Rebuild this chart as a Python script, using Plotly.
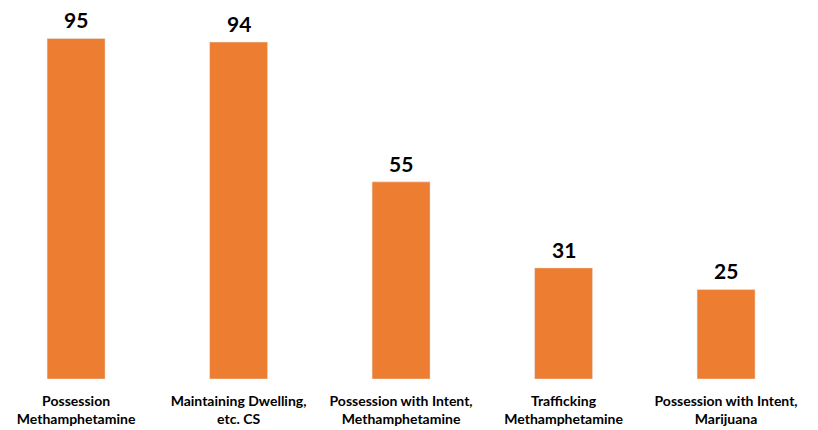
import plotly.graph_objects as go

categories = ["Possession<br>Methamphetamine", "Maintaining Dwelling,<br>etc. CS",
              "Possession with Intent,<br>Methamphetamine", "Trafficking<br>Methamphetamine",
              "Possession with Intent,<br>Marijuana"]
values = [95, 94, 55, 31, 25]

FONT = "Lato, Open Sans, sans-serif"

xs = list(range(len(categories)))
fig = go.Figure(go.Bar(
    x=xs, y=values,
    marker_color="#ED7D31", width=0.357,
))
for x, v in zip(xs, values):
    fig.add_annotation(x=x, y=v, text=str(v), showarrow=False,
                       xanchor="center", yanchor="bottom", yshift=4,
                       font=dict(size=21, color="#000000", family=FONT, weight="bold"))
fig.update_layout(
    width=818, height=430,
    margin=dict(l=0, r=0, t=0, b=59),
    plot_bgcolor="white", paper_bgcolor="white",
    showlegend=False,
    xaxis=dict(range=[-0.419, 4.615], tickmode="array",
               tickvals=xs, ticktext=categories,
               tickfont=dict(size=14, color="#000000", family=FONT, weight="bold"),
               showgrid=False, zeroline=False, showline=False, ticks="",
               ticklabelstandoff=12, automargin=False),
    yaxis=dict(range=[0, 103.5], visible=False, showgrid=False, zeroline=False,
               automargin=False),
)
fig.write_html("out.html")
